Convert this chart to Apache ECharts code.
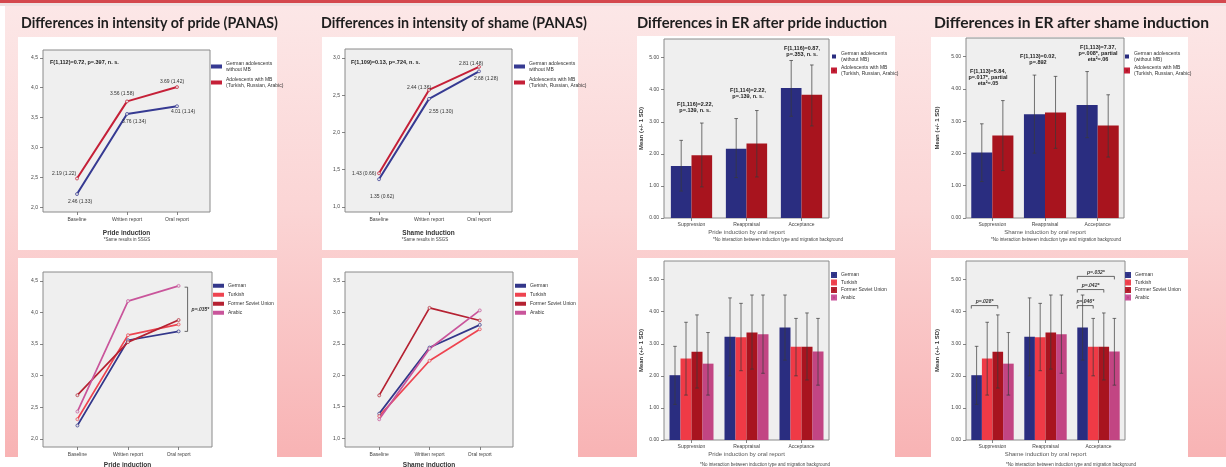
<!DOCTYPE html>
<html>
<head>
<meta charset="utf-8">
<script src="https://cdn.jsdelivr.net/npm/echarts@6/dist/echarts.min.js"></script>
<style>
  html, body { margin: 0; padding: 0; background: #fff; }
  #wrap { position: relative; width: 1226px; height: 467px; overflow: hidden; }
  .bg { position: absolute; }
  #chart { position: absolute; left: 0; top: 0; width: 1226px; height: 467px; }
</style>
</head>
<body>
<div id="wrap">
  <div class="bg" style="left:0;top:0;width:1226px;height:3px;background:#d4484e"></div>
  <div class="bg" style="left:0;top:3px;width:1226px;height:3px;background:#efe2e2"></div>
  <div class="bg" style="left:5px;top:6px;width:1221px;height:451px;background:linear-gradient(to bottom,#fce7e7 0%,#fbd5d5 45%,#f8b3b4 100%)"></div>
  <div class="bg" style="left:18px;top:37px;width:259px;height:213px;background:#fff"></div>
  <div class="bg" style="left:322px;top:37px;width:256px;height:213px;background:#fff"></div>
  <div class="bg" style="left:637px;top:36px;width:258px;height:214px;background:#fff"></div>
  <div class="bg" style="left:931px;top:37px;width:257px;height:213px;background:#fff"></div>
  <div class="bg" style="left:18px;top:258px;width:259px;height:199px;background:#fff"></div>
  <div class="bg" style="left:322px;top:258px;width:256px;height:199px;background:#fff"></div>
  <div class="bg" style="left:637px;top:258px;width:258px;height:199px;background:#fff"></div>
  <div class="bg" style="left:931px;top:258px;width:257px;height:199px;background:#fff"></div>
  <div id="chart"></div>
</div>
<script>
// ---- categories / ticks ----
const lineCats = ['Baseline', 'Written report', 'Oral report'];
const erCats = ['Suppression', 'Reappraisal', 'Acceptance'];
const prideTicks = [2.0, 2.5, 3.0, 3.5, 4.0, 4.5];
const shameTicks = [1.0, 1.5, 2.0, 2.5, 3.0];
const shameGroupTicks = [1.0, 1.5, 2.0, 2.5, 3.0, 3.5];
const erTicks = [0, 1, 2, 3, 4, 5];

const twoGroupNames = ['German adolescents\nwithout MB', 'Adolescents with MB\n(Turkish, Russian, Arabic)'];
const twoGroupBarNames = ['German adolescents\n(without MB)', 'Adolescents with MB\n(Turkish, Russian, Arabic)'];
const fourGroupNames = ['German', 'Turkish', 'Former Soviet Union', 'Arabic'];

// ---- intensity of pride (PANAS) ----
const prideGerman = [2.22, 3.56, 3.69];
const prideMB = [2.48, 3.77, 4.01];
const prideGermanText = ['2.46 (1.33)', '3.76 (1.34)', '4.01 (1.14)'];
const prideMBText = ['2.19 (1.22)', '3.56 (1.58)', '3.69 (1.42)'];

// ---- intensity of shame (PANAS) ----
const shameGerman = [1.37, 2.45, 2.82];
const shameMB = [1.45, 2.57, 2.88];
const shameGermanText = ['1.35 (0.62)', '2.55 (1.30)', '2.68 (1.28)'];
const shameMBText = ['1.43 (0.66)', '2.44 (1.36)', '2.81 (1.48)'];

// ---- pride by group ----
const prideGroupGerman = [2.21, 3.56, 3.70];
const prideGroupTurkish = [2.31, 3.64, 3.81];
const prideGroupFSU = [2.69, 3.53, 3.88];
const prideGroupArabic = [2.43, 4.18, 4.42];
const prideGroupTest = [[2, 4.40, 3.70]];
const prideGroupTestText = ['p=.035*'];

// ---- shame by group ----
const shameGroupGerman = [1.39, 2.44, 2.80];
const shameGroupTurkish = [1.35, 2.23, 2.73];
const shameGroupFSU = [1.68, 3.07, 2.87];
const shameGroupArabic = [1.30, 2.42, 3.03];

// ---- ER after pride induction ----
const erPrideGerman = [1.62, 2.16, 4.05];
const erPrideGermanLo = [0.84, 1.26, 3.17];
const erPrideGermanHi = [2.42, 3.10, 4.91];
const erPrideMB = [1.96, 2.32, 3.84];
const erPrideMBLo = [0.97, 1.28, 2.87];
const erPrideMBHi = [2.96, 3.35, 4.77];

// ---- ER after shame induction ----
const erShameGerman = [2.03, 3.22, 3.50];
const erShameGermanLo = [1.13, 2.01, 2.49];
const erShameGermanHi = [2.92, 4.43, 4.54];
const erShameMB = [2.56, 3.27, 2.87];
const erShameMBLo = [1.47, 2.16, 1.89];
const erShameMBHi = [3.64, 4.39, 3.82];

// ---- ER by group (same values in both lower bar charts) ----
const erGerman = [2.02, 3.22, 3.51];
const erGermanLo = [1.11, 2.00, 2.49];
const erGermanHi = [2.92, 4.43, 4.52];
const erTurkish = [2.54, 3.20, 2.91];
const erTurkishLo = [1.40, 2.16, 2.00];
const erTurkishHi = [3.67, 4.26, 3.79];
const erFSU = [2.75, 3.35, 2.91];
const erFSULo = [1.62, 2.21, 1.87];
const erFSUHi = [3.90, 4.52, 3.96];
const erArabic = [2.38, 3.30, 2.76];
const erArabicLo = [1.40, 2.08, 1.71];
const erArabicHi = [3.35, 4.52, 3.79];
// [category, from bar, to bar, level]
const shameGroupTests = [[0, 0, 2, 4.19], [2, 0, 1, 4.19], [2, 0, 2, 4.69], [2, 0, 3, 5.10]];
const shameGroupTestText = ['p=.028*', 'p=.046*', 'p=.042*', 'p=.032*'];

// ---- annotation texts ----
const prideF = 'F(1,112)=0.72, p=.397, n. s.';
const shameF = 'F(1,109)=0.13, p=.724, n. s.';
const erPrideF = ['F(1,116)=2.22,\np=.139, n. s.', 'F(1,114)=2.22,\np=.139, n. s.', 'F(1,116)=0.87,\np=.353, n. s.'];
const erShameF = ['F(1,113)=5.84,\np=.017*, partial\neta\u00b2=.05', 'F(1,113)=0.02,\np=.892', 'F(1,113)=7.37,\np=.008*, partial\neta\u00b2=.06'];
const titles = [
  'Differences in intensity of pride (PANAS)',
  'Differences in intensity of shame (PANAS)',
  'Differences in ER after pride induction',
  'Differences in ER after shame induction'
];

const FONT = '"Liberation Sans", Arial, sans-serif';
const lineColors2 = ['#363a92', '#c52038'];
const barColors2 = ['#2a2d80', '#a8141e'];
const lineColors4 = ['#33378a', '#ee4450', '#b52232', '#c9559b'];
const barColors4 = ['#2a2d80', '#ef3a46', '#a8141f', '#c24583'];

const grids = [], xAxes = [], yAxes = [], series = [], legends = [], graphics = [];

function addGrid(box) {
  grids.push({
    left: box[0], top: box[1], width: box[2], height: box[3],
    show: true, backgroundColor: '#efefef', borderColor: '#8a8a8a', borderWidth: 1,
    outerBoundsMode: 'none'
  });
  return grids.length - 1;
}

const tickStyle = { show: true, length: 3, lineStyle: { color: '#666', width: 0.8 } };
const labelStyle = { fontSize: 5, color: '#444', fontFamily: FONT };
const noLine = { show: false, onZero: false };

function addLegend(left, top, names, colors, lineIcon, gap) {
  legends.push({
    left, top, orient: 'vertical', padding: 0, selectedMode: false,
    icon: 'rect', itemWidth: lineIcon ? 9 : 4, itemHeight: lineIcon ? 2.2 : 4, itemGap: gap,
    textStyle: { fontSize: 5, lineHeight: 5.5, color: '#333', fontFamily: FONT },
    data: names.map((n, i) => ({ name: n, itemStyle: { color: colors[i] } }))
  });
}

// line chart panel
function linePanel(box, yMin, yMax, ticks, xName, nameGap, lines) {
  const g = addGrid(box);
  xAxes.push({
    gridIndex: g, type: 'value', min: -0.68, max: 2.66,
    axisLine: noLine, splitLine: { show: false },
    axisTick: Object.assign({ customValues: [0, 1, 2] }, tickStyle),
    axisLabel: Object.assign({ customValues: [0, 1, 2], formatter: v => lineCats[Math.round(v)], margin: 5 }, labelStyle),
    name: xName, nameLocation: 'middle', nameGap,
    nameTextStyle: { fontSize: 6.5, fontWeight: 'bold', color: '#333', fontFamily: FONT }
  });
  yAxes.push({
    gridIndex: g, type: 'value', min: yMin, max: yMax,
    axisLine: noLine, splitLine: { show: false },
    axisTick: Object.assign({ customValues: ticks }, tickStyle),
    axisLabel: Object.assign({ customValues: ticks, formatter: v => v.toFixed(1).replace('.', ','), margin: 5 }, labelStyle)
  });
  lines.forEach(l => {
    series.push({
      type: 'line', name: l.name, xAxisIndex: g, yAxisIndex: g, z: 3,
      symbol: 'circle', symbolSize: 3,
      lineStyle: { color: l.color, width: l.width },
      itemStyle: { color: '#e2e2e2', borderColor: l.color, borderWidth: 0.7 },
      data: l.values.map((v, i) => {
        const item = { value: [i, v] };
        if (l.texts) {
          const p = l.place[i];
          item.label = {
            show: true, formatter: l.texts[i], position: p[0], distance: p[1], offset: [p[2], p[3]],
            fontSize: 5, color: '#333', fontFamily: FONT
          };
        }
        return item;
      })
    });
  });
  return g;
}

// bar chart panel with +/- 1 SD whiskers
function barPanel(box, gap, xName, yNameGap, bars) {
  const g = addGrid(box);
  xAxes.push({
    gridIndex: g, type: 'category', data: erCats, boundaryGap: true,
    axisLine: noLine, splitLine: { show: false },
    axisTick: Object.assign({ alignWithLabel: true }, tickStyle),
    axisLabel: Object.assign({ interval: 0, margin: 4 }, labelStyle),
    name: xName, nameLocation: 'middle', nameGap: 11,
    nameTextStyle: { fontSize: 6, color: '#555', fontFamily: FONT }
  });
  yAxes.push({
    gridIndex: g, type: 'value', min: 0, max: 5.58,
    axisLine: noLine, splitLine: { show: false },
    axisTick: Object.assign({ customValues: erTicks }, tickStyle),
    axisLabel: Object.assign({ customValues: erTicks, formatter: v => v.toFixed(2), margin: 5 }, labelStyle),
    name: 'Mean (+/- 1 SD)', nameLocation: 'middle', nameGap: yNameGap, nameRotate: 90,
    nameTextStyle: { fontSize: 6, fontWeight: 'bold', color: '#333', fontFamily: FONT }
  });
  const n = bars.length;
  const whiskers = [];
  bars.forEach((b, k) => {
    series.push({
      type: 'bar', name: b.name, xAxisIndex: g, yAxisIndex: g, z: 2,
      barGap: '0%', barCategoryGap: (gap * 100) + '%',
      itemStyle: { color: b.color }, data: b.values
    });
    b.values.forEach((v, i) => whiskers.push([i, b.lo[i], b.hi[i], k]));
  });
  series.push({
    type: 'custom', xAxisIndex: g, yAxisIndex: g, z: 4, silent: true,
    data: whiskers,
    renderItem: (params, api) => {
      const band = api.size([1, 0])[0];
      const total = band * (1 - gap), bw = total / n;
      const lo = api.coord([api.value(0), api.value(1)]);
      const hi = api.coord([api.value(0), api.value(2)]);
      const x = lo[0] - total / 2 + bw * (api.value(3) + 0.5);
      const style = { stroke: '#3a3a3a', lineWidth: 0.7 };
      return {
        type: 'group', children: [
          { type: 'line', shape: { x1: x, y1: lo[1], x2: x, y2: hi[1] }, style },
          { type: 'line', shape: { x1: x - 1.8, y1: hi[1], x2: x + 1.8, y2: hi[1] }, style },
          { type: 'line', shape: { x1: x - 1.8, y1: lo[1], x2: x + 1.8, y2: lo[1] }, style }
        ]
      };
    }
  });
  return g;
}

// ---------- panel 1: pride PANAS ----------
linePanel([43, 50, 167, 162], 1.92, 4.63, prideTicks, 'Pride induction', 18, [
  { name: twoGroupNames[0], color: lineColors2[0], width: 2, values: prideGerman, texts: prideGermanText,
    place: [['bottom', 3, 3, 0], ['bottom', 3, 7, 0], ['bottom', 1, 6, 0]] },
  { name: twoGroupNames[1], color: lineColors2[1], width: 2, values: prideMB, texts: prideMBText,
    place: [['left', 0, 1, -5], ['top', 3, -5, 0], ['top', 1, -5, 0]] }
]);
addLegend(211, 61, twoGroupNames, lineColors2, true, 5);

// ---------- panel 2: shame PANAS ----------
linePanel([345, 49, 167, 163], 0.93, 3.12, shameTicks, 'Shame induction', 18, [
  { name: twoGroupNames[0], color: lineColors2[0], width: 2, values: shameGerman, texts: shameGermanText,
    place: [['bottom', 13, 3, 0], ['bottom', 8, 12, 0], ['bottom', 3, 7, 0]] },
  { name: twoGroupNames[1], color: lineColors2[1], width: 2, values: shameMB, texts: shameMBText,
    place: [['left', 1, 0, 0], ['top', 0, -10, 2], ['top', 0, -8, 1]] }
]);
addLegend(514, 61, twoGroupNames, lineColors2, true, 5);

// ---------- panel 3: ER after pride ----------
barPanel([664, 39, 165, 179], 0.25, 'Pride induction by oral report', 20, [
  { name: twoGroupBarNames[0], color: barColors2[0], values: erPrideGerman, lo: erPrideGermanLo, hi: erPrideGermanHi },
  { name: twoGroupBarNames[1], color: barColors2[1], values: erPrideMB, lo: erPrideMBLo, hi: erPrideMBHi }
]);
addLegend(831, 51, twoGroupBarNames, barColors2, false, 3);

// ---------- panel 4: ER after shame ----------
barPanel([966, 38, 158, 180], 0.2, 'Shame induction by oral report', 26, [
  { name: twoGroupBarNames[0], color: barColors2[0], values: erShameGerman, lo: erShameGermanLo, hi: erShameGermanHi },
  { name: twoGroupBarNames[1], color: barColors2[1], values: erShameMB, lo: erShameMBLo, hi: erShameMBHi }
]);
addLegend(1124, 51, twoGroupBarNames, barColors2, false, 3);

// ---------- panel 5: pride by group ----------
const g5 = linePanel([43, 272, 169, 175], 1.87, 4.64, prideTicks, 'Pride induction', 15, [
  { name: fourGroupNames[0], color: lineColors4[0], width: 1.7, values: prideGroupGerman },
  { name: fourGroupNames[1], color: lineColors4[1], width: 1.7, values: prideGroupTurkish },
  { name: fourGroupNames[2], color: lineColors4[2], width: 1.7, values: prideGroupFSU },
  { name: fourGroupNames[3], color: lineColors4[3], width: 1.7, values: prideGroupArabic }
]);
addLegend(213, 283, fourGroupNames, lineColors4, true, 3.5);
series.push({
  type: 'custom', xAxisIndex: g5, yAxisIndex: g5, z: 5, silent: true,
  data: prideGroupTest,
  renderItem: (params, api) => {
    const a = api.coord([api.value(0), api.value(1)]);
    const b = api.coord([api.value(0), api.value(2)]);
    const x = a[0] + 9;
    return {
      type: 'group', children: [
        { type: 'polyline', shape: { points: [[x - 3, a[1]], [x, a[1]], [x, b[1]], [x - 3, b[1]]] },
          style: { stroke: '#444', lineWidth: 0.8, fill: null } },
        { type: 'text', x: x + 4, y: (a[1] + b[1]) / 2,
          style: { text: prideGroupTestText[params.dataIndex], fontSize: 5, fontStyle: 'italic', fontWeight: 'bold',
            fontFamily: FONT, fill: '#333', align: 'left', verticalAlign: 'middle' } }
      ]
    };
  }
});

// ---------- panel 6: shame by group ----------
linePanel([345, 272, 168, 175], 0.86, 3.64, shameGroupTicks, 'Shame induction', 15, [
  { name: fourGroupNames[0], color: lineColors4[0], width: 1.7, values: shameGroupGerman },
  { name: fourGroupNames[1], color: lineColors4[1], width: 1.7, values: shameGroupTurkish },
  { name: fourGroupNames[2], color: lineColors4[2], width: 1.7, values: shameGroupFSU },
  { name: fourGroupNames[3], color: lineColors4[3], width: 1.7, values: shameGroupArabic }
]);
addLegend(515, 283, fourGroupNames, lineColors4, true, 3.5);

// ---------- panels 7 & 8: ER by group ----------
const groupBars = [
  { name: fourGroupNames[0], color: barColors4[0], values: erGerman, lo: erGermanLo, hi: erGermanHi },
  { name: fourGroupNames[1], color: barColors4[1], values: erTurkish, lo: erTurkishLo, hi: erTurkishHi },
  { name: fourGroupNames[2], color: barColors4[2], values: erFSU, lo: erFSULo, hi: erFSUHi },
  { name: fourGroupNames[3], color: barColors4[3], values: erArabic, lo: erArabicLo, hi: erArabicHi }
];
barPanel([664, 261, 165, 179], 0.2, 'Pride induction by oral report', 20, groupBars);
addLegend(831, 272, fourGroupNames, barColors4, false, 1.5);
const g8 = barPanel([966, 261, 159, 179], 0.2, 'Shame induction by oral report', 26, groupBars);
addLegend(1125, 272, fourGroupNames, barColors4, false, 1.5);
series.push({
  type: 'custom', xAxisIndex: g8, yAxisIndex: g8, z: 5, silent: true,
  data: shameGroupTests,
  renderItem: (params, api) => {
    const band = api.size([1, 0])[0];
    const total = band * 0.8, bw = total / 4;
    const c = api.coord([api.value(0), api.value(3)]);
    const left0 = c[0] - total / 2;
    const x1 = left0 + bw * api.value(1);
    const x2 = left0 + bw * (api.value(2) + 0.5);
    const y = c[1];
    return {
      type: 'group', children: [
        { type: 'polyline', shape: { points: [[x1, y + 3], [x1, y], [x2, y], [x2, y + 3]] },
          style: { stroke: '#444', lineWidth: 0.8, fill: null } },
        { type: 'text', x: (x1 + x2) / 2, y: y - 1,
          style: { text: shameGroupTestText[params.dataIndex], fontSize: 5, fontStyle: 'italic', fontWeight: 'bold',
            fontFamily: FONT, fill: '#333', align: 'center', verticalAlign: 'bottom' } }
      ]
    };
  }
});

// ---------- titles & notes ----------
const measure = document.createElement('canvas').getContext('2d');
function title(text, left, right) {
  measure.font = 'bold 15.5px Lato';
  const w = measure.measureText(text).width;
  graphics.push({
    type: 'text', x: left, y: 23, scaleX: (right - left) / w, z: 100,
    style: { text, fontSize: 15.5, fontWeight: 'bold', fontFamily: 'Lato', fill: '#1e1e1e', align: 'left', verticalAlign: 'middle' }
  });
}
title(titles[0], 21, 278);
title(titles[1], 321, 587);
title(titles[2], 637, 887);
title(titles[3], 934, 1209);

function note(text, x, y, opts) {
  graphics.push({
    type: 'text', x, y, z: 100,
    style: Object.assign({ text, fontSize: 5.5, fontWeight: 'bold', fontFamily: FONT, fill: '#222',
      align: 'center', verticalAlign: 'middle', lineHeight: 6 }, opts || {})
  });
}
note(prideF, 50, 62, { align: 'left' });
note(shameF, 351, 62, { align: 'left' });
note(erPrideF[0], 695, 107);
note(erPrideF[1], 748, 93);
note(erPrideF[2], 802, 51);
note(erShameF[0], 988, 77);
note(erShameF[1], 1038, 59.5);
note(erShameF[2], 1098, 53);

const footStyle = { fontSize: 4.5, fontWeight: 'normal', fill: '#444' };
note('*Same results in SSGS', 127, 240, footStyle);
note('*Same results in SSGS', 425, 240, footStyle);
note('*No interaction between induction type and migration background', 778, 239.5, footStyle);
note('*No interaction between induction type and migration background', 1056, 239.5, footStyle);
note('*No interaction between induction type and migration background', 765, 464.5, footStyle);
note('*No interaction between induction type and migration background', 1071, 464.5, footStyle);

const chart = echarts.init(document.getElementById('chart'), null, { renderer: 'canvas' });
chart.setOption({
  backgroundColor: 'transparent',
  animation: false,
  grid: grids,
  xAxis: xAxes,
  yAxis: yAxes,
  legend: legends,
  series: series,
  graphic: graphics
});
</script>
</body>
</html>
